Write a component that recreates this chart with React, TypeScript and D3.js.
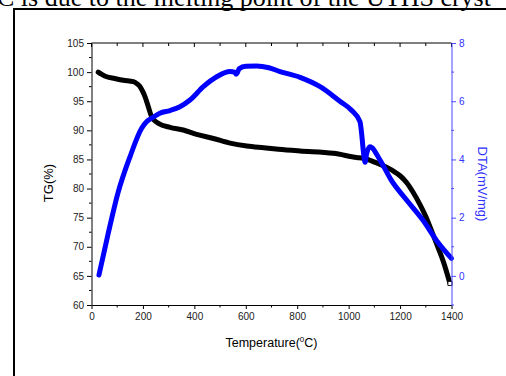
import { useEffect, useRef } from 'react';
import * as d3 from 'd3';

// ─── Data ───────────────────────────────────────────────────

const tgTemp = [26, 40, 59, 90, 124, 163, 180, 189, 200, 208, 221, 234, 247, 260, 305, 357, 409, 474, 539, 604, 670, 727, 811, 941, 1031, 1057, 1109, 1135, 1174, 1200, 1226, 1250, 1278, 1300, 1329, 1350, 1368, 1394];
const tgVal = [100.0, 99.6, 99.2, 98.9, 98.6, 98.35, 97.9, 97.5, 96.6, 95.8, 94.05, 92.3, 91.6, 91.2, 90.5, 90.05, 89.3, 88.6, 87.8, 87.3, 87.0, 86.75, 86.45, 86.05, 85.35, 85.2, 84.4, 83.9, 83.0, 82.2, 81.0, 79.4, 77.2, 75.2, 72.0, 69.6, 67.5, 63.7];

const dtaTemp = [29, 66, 103, 150, 195, 215, 240, 266, 305, 344, 383, 435, 487, 539, 556, 563, 575, 600, 642, 690, 733, 811, 889, 966, 1010, 1044, 1051, 1057, 1064, 1070, 1083, 1122, 1165, 1226, 1290, 1343, 1400];
const dtaVal = [0.03, 1.5, 2.85, 4.1, 5.07, 5.3, 5.45, 5.59, 5.68, 5.81, 6.04, 6.5, 6.84, 7.02, 7.0, 6.93, 7.12, 7.2, 7.21, 7.15, 7.02, 6.82, 6.5, 6.0, 5.7, 5.3, 4.85, 4.3, 3.9, 4.2, 4.44, 3.98, 3.3, 2.6, 1.9, 1.2, 0.6];

const xTicks = [0, 200, 400, 600, 800, 1000, 1200, 1400];
const tgTicks = [60, 65, 70, 75, 80, 85, 90, 95, 100, 105];
const dtaTicks = [0, 2, 4, 6, 8];

const headerText = 'C is due to the melting point of the UTHS cryst';

// ─── Constants ──────────────────────────────────────────────

const W = 506;
const H = 376;
const margin = { top: 43, right: 54.5, bottom: 71, left: 91.5 };
const BLUE = '#0000ff';
const AXIS_BLUE = '#4848ff';
const FONT = '"Liberation Sans", Arial, sans-serif';

export default function App() {
  const svgRef = useRef<SVGSVGElement>(null);

  useEffect(() => {
    if (!svgRef.current) return;
    const svg = d3.select(svgRef.current);
    svg.selectAll('*').remove();

    const iw = W - margin.left - margin.right;
    const ih = H - margin.top - margin.bottom;

    const x = d3.scaleLinear().domain([0, 1400]).range([0, iw]);
    const yL = d3.scaleLinear().domain([60, 105]).range([ih, 0]);
    const yR = d3.scaleLinear().domain([-1, 8]).range([ih, 0]);

    svg.append('rect').attr('width', W).attr('height', H).attr('fill', '#fff');

    // header text cut off at the top
    svg.append('text')
      .attr('x', -3).attr('y', 5.5)
      .attr('font-family', '"Liberation Serif", "Times New Roman", serif')
      .attr('font-size', 26)
      .attr('fill', '#000')
      .text(headerText);

    // frame around the figure
    svg.append('rect')
      .attr('x', 14).attr('y', 9)
      .attr('width', 520).attr('height', 400)
      .attr('fill', 'none')
      .attr('stroke', '#000')
      .attr('stroke-width', 2);

    const g = svg.append('g').attr('transform', `translate(${margin.left},${margin.top})`);

    // series
    const tgPts = tgTemp.map((t, i) => [t, tgVal[i]] as [number, number]);
    const dtaPts = dtaTemp.map((t, i) => [t, dtaVal[i]] as [number, number]);

    const tgLine = d3.line<[number, number]>()
      .x((d) => x(d[0])).y((d) => yL(d[1]))
      .curve(d3.curveMonotoneX);
    const dtaLine = d3.line<[number, number]>()
      .x((d) => x(d[0])).y((d) => yR(d[1]))
      .curve(d3.curveMonotoneX);

    g.append('path')
      .datum(tgPts)
      .attr('fill', 'none')
      .attr('stroke', '#000')
      .attr('stroke-width', 5)
      .attr('stroke-linejoin', 'round')
      .attr('stroke-linecap', 'round')
      .attr('d', tgLine);

    const last = tgPts[tgPts.length - 1];
    g.append('rect')
      .attr('x', x(last[0]) - 2).attr('y', yL(last[1]) - 2)
      .attr('width', 4).attr('height', 4)
      .attr('fill', '#fff').attr('stroke', '#000').attr('stroke-width', 0.8);

    g.append('path')
      .datum(dtaPts)
      .attr('fill', 'none')
      .attr('stroke', BLUE)
      .attr('stroke-width', 5)
      .attr('stroke-linejoin', 'round')
      .attr('stroke-linecap', 'round')
      .attr('d', dtaLine);

    const styleAxis = (sel: any, color: string, textColor: string) => {
      sel.selectAll('line,path').attr('stroke', color).attr('stroke-width', 1);
      sel.selectAll('text')
        .attr('fill', textColor)
        .attr('font-size', '10px')
        .attr('font-family', FONT);
    };

    // minor ticks
    const xMinor = d3.range(100, 1400, 200);
    const tgMinor = d3.range(62.5, 105, 5);
    const dtaMinor = [-1, 1, 3, 5, 7];
    const fmt = d3.format('d');

    // bottom axis
    g.append('g').attr('transform', `translate(0,${ih})`)
      .call(d3.axisBottom(x).tickValues(xTicks).tickFormat((d) => fmt(d as number)).tickSize(4).tickPadding(4).tickSizeOuter(0))
      .call((s) => styleAxis(s, '#000', '#222'));
    g.append('g').attr('transform', `translate(0,${ih})`)
      .selectAll('line').data(xMinor).join('line')
      .attr('x1', (d) => x(d)).attr('x2', (d) => x(d))
      .attr('y1', 0).attr('y2', 2.5)
      .attr('stroke', '#000');

    // top axis (ticks inward, no labels)
    g.append('line').attr('x1', 0).attr('x2', iw).attr('y1', 0).attr('y2', 0).attr('stroke', '#000');
    g.append('g').selectAll('line')
      .data([...xTicks, ...xMinor]).join('line')
      .attr('x1', (d) => x(d)).attr('x2', (d) => x(d))
      .attr('y1', 0).attr('y2', (d) => (xTicks.includes(d) ? 4 : 3))
      .attr('stroke', '#000');

    // left axis
    g.append('g')
      .call(d3.axisLeft(yL).tickValues(tgTicks).tickFormat((d) => fmt(d as number)).tickSize(4.5).tickPadding(3).tickSizeOuter(0))
      .call((s) => styleAxis(s, '#000', '#222'));
    g.append('g').selectAll('line').data(tgMinor).join('line')
      .attr('x1', -2.5).attr('x2', 0)
      .attr('y1', (d) => yL(d)).attr('y2', (d) => yL(d))
      .attr('stroke', '#000');

    // right axis
    g.append('g').attr('transform', `translate(${iw},0)`)
      .call(d3.axisRight(yR).tickValues(dtaTicks).tickFormat((d) => fmt(d as number)).tickSize(4.5).tickPadding(3).tickSizeOuter(0))
      .call((s) => styleAxis(s, AXIS_BLUE, '#3030ff'));
    g.append('g').attr('transform', `translate(${iw},0)`)
      .selectAll('line').data(dtaMinor).join('line')
      .attr('x1', 0).attr('x2', 2.5)
      .attr('y1', (d) => yR(d)).attr('y2', (d) => yR(d))
      .attr('stroke', AXIS_BLUE);

    // axis titles
    g.append('text')
      .attr('x', iw / 2).attr('y', ih + 42)
      .attr('text-anchor', 'middle')
      .attr('font-family', FONT).attr('font-size', '12.5px')
      .attr('fill', '#000')
      .text('Temperature(')
      .call((t) => {
        t.append('tspan').attr('dy', -5).attr('font-size', '8px').text('0');
        t.append('tspan').attr('dy', 5).text('C)');
      });

    g.append('text')
      .attr('transform', `translate(${-39},${ih / 2 + 9}) rotate(-90)`)
      .attr('text-anchor', 'middle')
      .attr('font-family', FONT).attr('font-size', '13px')
      .attr('fill', '#000')
      .text('TG(%)');

    g.append('text')
      .attr('transform', `translate(${iw + 26},${ih / 2 + 10}) rotate(90)`)
      .attr('text-anchor', 'middle')
      .attr('font-family', FONT).attr('font-size', '13px')
      .attr('fill', '#3030ff')
      .text('DTA(mV/mg)');
  }, []);

  return (
    <div style={{ position: 'fixed', left: 0, top: 0, width: W, height: H, overflow: 'hidden' }}>
      <svg ref={svgRef} width={W} height={H} style={{ display: 'block' }} />
    </div>
  );
}
